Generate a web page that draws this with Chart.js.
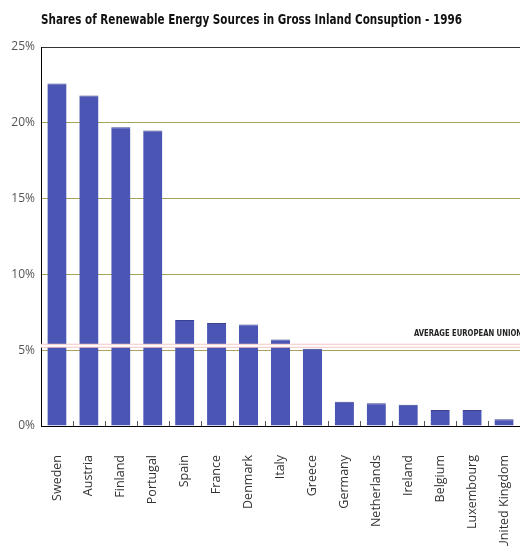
<!DOCTYPE html>
<html>
<head>
<meta charset="utf-8">
<script src="https://cdn.jsdelivr.net/npm/chart.js@4"></script>
<style>
  html, body { margin: 0; padding: 0; background: #fff; }
  #wrap { width: 520px; height: 546px; position: relative; }
</style>
</head>
<body>
<div id="wrap"><canvas id="myChart"></canvas></div>
<script>
const countries = ["Sweden", "Austria", "Finland", "Portugal", "Spain", "France", "Denmark",
  "Italy", "Greece", "Germany", "Netherlands", "Ireland", "Belgium", "Luxembourg", "United Kingdom"];
const shares = [22.6, 21.8, 19.7, 19.5, 7.0, 6.8, 6.7, 5.7, 5.1, 1.6, 1.5, 1.4, 1.05, 1.05, 0.45];
const euAverage = 5.3;
const yTicks = [0, 5, 10, 15, 20, 25];
const titleText = "Shares of Renewable Energy Sources in Gross Inland Consuption - 1996";
const averageLabel = "AVERAGE EUROPEAN UNION";

const condensed = '"DejaVu Sans Condensed", "Roboto", sans-serif';

// title, EU average line and the little upward ticks on the x axis
const extras = {
  id: "extras",
  afterDatasetsDraw(chart) {
    const c = chart.ctx;
    const area = chart.chartArea;
    const x = chart.scales.x;
    const y = chart.scales.y;
    const step = x.getPixelForValue(1) - x.getPixelForValue(0);

    // ticks between bars, pointing up from the axis
    c.save();
    c.strokeStyle = "#555";
    c.lineWidth = 1;
    for (let i = 0; i < countries.length - 1; i++) {
      const px = Math.round(x.getPixelForValue(i) + step / 2) + 0.5;
      c.beginPath();
      c.moveTo(px, area.bottom);
      c.lineTo(px, area.bottom - 5);
      c.stroke();
    }

    // average line
    const ay = y.getPixelForValue(euAverage);
    c.strokeStyle = "#f4c6c6";
    c.lineWidth = 4;
    c.beginPath();
    c.moveTo(area.left, ay);
    c.lineTo(area.right, ay);
    c.stroke();
    c.strokeStyle = "#ffffff";
    c.lineWidth = 2;
    c.beginPath();
    c.moveTo(area.left, ay);
    c.lineTo(area.right, ay);
    c.stroke();

    c.fillStyle = "#222";
    c.font = "bold 8px " + condensed;
    c.textAlign = "left";
    c.textBaseline = "middle";
    c.fillText(averageLabel, 414, ay - 12, 108);

    // title
    c.fillStyle = "#111";
    c.font = "bold 14px " + condensed;
    c.textAlign = "left";
    c.textBaseline = "middle";
    c.fillText(titleText, area.left, 20, 421);
    c.restore();
  }
};

const ctx = document.getElementById("myChart");
new Chart(ctx, {
  type: "bar",
  data: {
    labels: countries,
    datasets: [{
      label: "Share",
      data: shares,
      backgroundColor: "#4b55b4",
      borderColor: "#3a4290",
      borderWidth: { top: 1, left: 0, right: 0, bottom: 0 },
      barPercentage: 0.6,
      categoryPercentage: 1.0
    }]
  },
  options: {
    responsive: true,
    maintainAspectRatio: false,
    animation: false,
    layout: { padding: { top: 47, right: 0, left: 0, bottom: 0 } },
    plugins: {
      legend: { display: false },
      tooltip: { enabled: false }
    },
    scales: {
      x: {
        afterFit(scale) {
          scale.height = 120;
          scale.paddingLeft = 0;
          scale.paddingRight = 0;
        },
        grid: { display: false, drawTicks: false },
        border: { display: true, color: "#000", width: 1 },
        ticks: {
          autoSkip: false,
          minRotation: 90,
          maxRotation: 90,
          padding: 29,
          color: "#333",
          font: { family: '"Open Sans", "Noto Sans", sans-serif', size: 12.5 }
        }
      },
      y: {
        min: 0,
        max: 25,
        afterFit(scale) {
          scale.width = 41;
          scale.paddingTop = 0;
          scale.paddingBottom = 0;
        },
        afterBuildTicks(scale) { scale.ticks = yTicks.map(v => ({ value: v })); },
        grid: {
          drawTicks: false,
          color: (c) => c.tick && c.tick.value === 25 ? "#333" : (c.tick && c.tick.value === 0 ? "#000" : "#a3a35a"),
          lineWidth: 1
        },
        border: { display: true, color: "#000", width: 1 },
        ticks: {
          padding: 6,
          color: "#555",
          font: { family: '"Open Sans", "Noto Sans", sans-serif', size: 12 },
          callback: (v) => v + "%"
        }
      }
    }
  },
  plugins: [extras]
});
</script>
</body>
</html>
